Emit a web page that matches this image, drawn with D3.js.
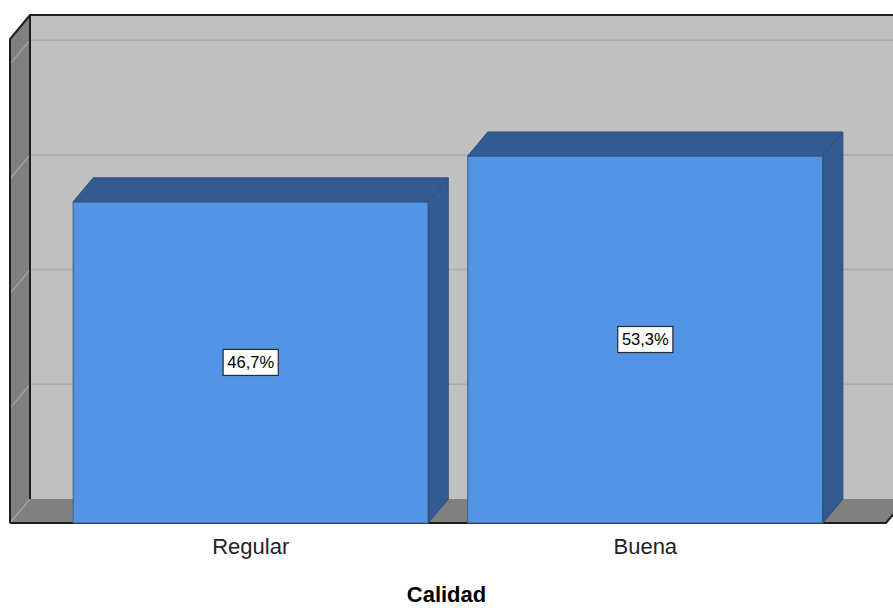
<!DOCTYPE html>
<html>
<head>
<meta charset="utf-8">
<script src="https://cdn.jsdelivr.net/npm/d3@7"></script>
<style>
  body { margin: 0; background: #fff; }
  text { font-family: "Liberation Sans", Arial, sans-serif; }
</style>
</head>
<body>
<div id="chart"></div>
<script>
// data (counts, n = 30)
const categories = ["Regular", "Buena"];
const counts = [14, 16];
const percentLabels = ["46,7%", "53,3%"];
const gridTicks = [5, 10, 15, 20];
const axisTitle = "Calidad";

const svgWidth = 893;
const svgHeight = 608;

// 3d depth offset of the box
const depthX = 20;
const depthY = 24;

// front plane of the chart
const front = { left: 10, right: 886, bottom: 523, top: 39 };
const yMax = 21.1;

const svg = d3.select("#chart")
  .append("svg")
  .attr("width", svgWidth)
  .attr("height", svgHeight);

const x = d3.scaleBand()
  .domain(categories)
  .range([front.left, front.right])
  .paddingInner(0.1)
  .paddingOuter(0.16);

const y = d3.scaleLinear()
  .domain([0, yMax])
  .range([front.bottom, front.top]);

const wallFill = "#c0c0c0";
const sideFill = "#808080";
const edge = "#1e1e1e";

const backLeft = front.left + depthX;
const backRight = front.right + depthX;
const backBottom = front.bottom - depthY;
const backTop = front.top - depthY;

const line = d3.line();

// back wall
svg.append("rect")
  .attr("x", backLeft)
  .attr("y", backTop)
  .attr("width", backRight - backLeft)
  .attr("height", backBottom - backTop)
  .attr("fill", wallFill);

// left wall
svg.append("path")
  .attr("d", line([[front.left, front.top], [backLeft, backTop], [backLeft, backBottom], [front.left, front.bottom]]) + "Z")
  .attr("fill", sideFill);

// floor
svg.append("path")
  .attr("d", line([[front.left, front.bottom], [backLeft, backBottom], [backRight, backBottom], [front.right, front.bottom]]) + "Z")
  .attr("fill", sideFill);

// gridlines on back wall and left wall
const grid = svg.append("g");
gridTicks.forEach(t => {
  grid.append("line")
    .attr("x1", backLeft).attr("x2", backRight)
    .attr("y1", y(t) - depthY).attr("y2", y(t) - depthY)
    .attr("stroke", "#acacac")
    .attr("stroke-width", 1.5);
  grid.append("line")
    .attr("x1", front.left).attr("x2", backLeft)
    .attr("y1", y(t)).attr("y2", y(t) - depthY)
    .attr("stroke", "#a6a6a6")
    .attr("stroke-width", 1.2);
});
grid.append("line")
  .attr("x1", front.left).attr("x2", backLeft)
  .attr("y1", front.bottom).attr("y2", backBottom)
  .attr("stroke", "#a6a6a6")
  .attr("stroke-width", 1.2);

// box edges
const edges = svg.append("g")
  .attr("fill", "none")
  .attr("stroke", edge)
  .attr("stroke-width", 2);
edges.append("path")
  .attr("d", line([[front.left, front.bottom], [front.left, front.top], [backLeft, backTop], [backRight, backTop]]));
edges.append("path")
  .attr("d", line([[backLeft, backTop], [backLeft, backBottom]]));
edges.append("path")
  .attr("d", line([[front.left, front.bottom], [front.right, front.bottom], [backRight, backBottom]]));

// bars
const bars = svg.append("g")
  .selectAll("g")
  .data(categories.map((c, i) => ({ cat: c, value: counts[i], label: percentLabels[i] })))
  .enter()
  .append("g");

const bw = x.bandwidth();

bars.append("rect")
  .attr("x", d => x(d.cat))
  .attr("y", d => y(d.value))
  .attr("width", bw)
  .attr("height", d => y(0) - y(d.value))
  .attr("fill", "#5394e4")
  .attr("stroke", "#3c5f8e")
  .attr("stroke-width", 1);

bars.append("path")
  .attr("d", d => {
    const x0 = x(d.cat), yv = y(d.value);
    return line([[x0, yv], [x0 + depthX, yv - depthY], [x0 + bw + depthX, yv - depthY], [x0 + bw, yv]]) + "Z";
  })
  .attr("fill", "#335b91")
  .attr("stroke", "#2c4e7c")
  .attr("stroke-width", 1);

bars.append("path")
  .attr("d", d => {
    const x1 = x(d.cat) + bw, yv = y(d.value);
    return line([[x1, yv], [x1 + depthX, yv - depthY], [x1 + depthX, y(0) - depthY], [x1, y(0)]]) + "Z";
  })
  .attr("fill", "#335b91")
  .attr("stroke", "#2c4e7c")
  .attr("stroke-width", 1);

// value labels in boxes
bars.each(function(d) {
  const g = d3.select(this);
  const cx = x(d.cat) + bw / 2;
  const cy = (y(d.value) + y(0)) / 2;
  const txt = g.append("text")
    .attr("x", cx)
    .attr("y", cy)
    .attr("dy", "0.35em")
    .attr("text-anchor", "middle")
    .attr("font-size", "16.5px")
    .attr("fill", "#000")
    .text(d.label);
  const bb = txt.node().getBBox();
  g.insert("rect", "text")
    .attr("x", cx - bb.width / 2 - 4)
    .attr("y", cy - 13)
    .attr("width", bb.width + 8)
    .attr("height", 26)
    .attr("fill", "#fff")
    .attr("stroke", "#2a2a2a")
    .attr("stroke-width", 1.2);
});

// category axis
const xAxis = svg.append("g")
  .attr("transform", `translate(0, ${front.bottom})`)
  .call(d3.axisBottom(x).tickSize(0).tickPadding(15.5));
xAxis.select(".domain").remove();
xAxis.selectAll("text")
  .attr("font-family", "'Liberation Sans', Arial, sans-serif")
  .attr("font-size", "22px")
  .attr("fill", "#222");

// axis title
svg.append("text")
  .attr("x", svgWidth / 2)
  .attr("y", 602)
  .attr("text-anchor", "middle")
  .attr("font-size", "22px")
  .attr("font-weight", "bold")
  .attr("fill", "#000")
  .text(axisTitle);
</script>
</body>
</html>
